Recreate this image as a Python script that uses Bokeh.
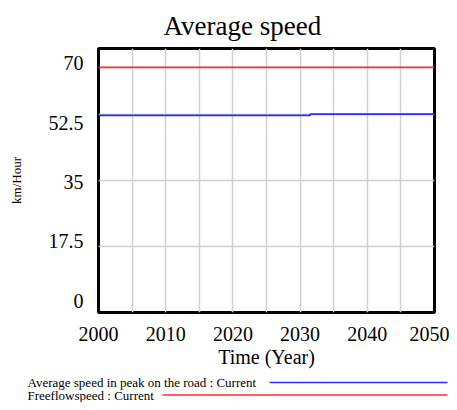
from bokeh.plotting import figure
from bokeh.models import (Range1d, LinearAxis, FixedTicker, Grid, Title)
from bokeh.core.properties import value
from bokeh.embed import file_html
from bokeh.resources import INLINE

# ---- data ----
years_blue = [2000, 2031.5, 2050]
avg_speed_peak = [52.25, 52.6, 52.6]
years_red = [2000, 2050]
freeflow_speed = [65, 65]
x_ticks = [2000, 2010, 2020, 2030, 2040, 2050]
x_grid = [2005, 2010, 2015, 2020, 2025, 2030, 2035, 2040, 2045]
y_ticks = [0, 17.5, 35, 52.5, 70]
y_tick_labels = {0: "0", 17.5: "17.5", 35: "35", 52.5: "52.5", 70: "70"}
title_text = "Average speed"
x_label = "Time (Year)"
y_label = "km/Hour"
legend_labels = ["Average speed in peak on the road : Current", "Freeflowspeed : Current"]
legend_colors = ["#2a2aff", "#ff2a2a"]

SERIF = "Liberation Serif"
W, H = 449, 370
FL, FR, FT, FB = 98, 434, 47, 315  # frame edges in figure pixels

p = figure(width=W, height=H, output_backend="svg", toolbar_location=None,
           x_range=Range1d(2000, 2050), y_range=Range1d(0, 70),
           x_axis_location=None, y_axis_location=None,
           min_border_left=FL, min_border_right=W - FR,
           min_border_top=FT, min_border_bottom=H - FB)
p.center = []
p.outline_line_color = "black"
p.outline_line_width = 3
p.outline_line_alpha = 1
p.background_fill_color = "white"
p.border_fill_color = "white"

t = Title(text=title_text, align="left", offset=65, text_font=SERIF,
          text_font_size="27px", text_font_style="normal", text_color="black",
          standoff=16)
p.add_layout(t, "above")

# label axis range: Vensim places tick labels slightly compressed
lab_bottom_px, lab_top_px = 303, 62
ppu = (lab_bottom_px - lab_top_px) / 70.0
p.extra_y_ranges = {"lab": Range1d(-(FB - lab_bottom_px) / ppu, 70 + (lab_top_px - FT) / ppu)}

yaxis = LinearAxis(y_range_name="lab", ticker=FixedTicker(ticks=y_ticks),
                   major_label_overrides=y_tick_labels)
yaxis.axis_line_color = None
yaxis.major_tick_line_color = None
yaxis.minor_tick_line_color = None
yaxis.major_tick_out = 0
yaxis.major_tick_in = 0
yaxis.major_label_standoff = 15
yaxis.major_label_text_font = SERIF
yaxis.major_label_text_font_size = "20px"
yaxis.major_label_text_color = "black"
yaxis.axis_label = y_label
yaxis.axis_label_text_font = SERIF
yaxis.axis_label_text_font_size = "13px"
yaxis.axis_label_text_font_style = "normal"
yaxis.axis_label_text_color = "black"
yaxis.axis_label_standoff = 22
p.add_layout(yaxis, "left")

xaxis = LinearAxis(ticker=FixedTicker(ticks=x_ticks))
xaxis.axis_line_color = None
xaxis.major_tick_line_color = None
xaxis.minor_tick_line_color = None
xaxis.major_tick_out = 0
xaxis.major_tick_in = 0
xaxis.major_label_standoff = 14
xaxis.major_label_text_font = SERIF
xaxis.major_label_text_font_size = "20px"
xaxis.major_label_text_color = "black"
xaxis.axis_label = x_label
xaxis.axis_label_text_font = SERIF
xaxis.axis_label_text_font_size = "20px"
xaxis.axis_label_text_font_style = "normal"
xaxis.axis_label_text_color = "black"
xaxis.axis_label_standoff = 2
p.add_layout(xaxis, "below")

grid_color = "#d0d0d0"
p.add_layout(Grid(dimension=0, ticker=FixedTicker(ticks=x_grid),
                  grid_line_color=grid_color, grid_line_width=1.5))
p.add_layout(Grid(dimension=1, ticker=FixedTicker(ticks=[17.5, 35, 52.5]),
                  grid_line_color=grid_color, grid_line_width=1.5))

p.line(years_red, freeflow_speed, line_color=legend_colors[1], line_width=1.6)
p.step(years_blue, avg_speed_peak, mode="after", line_color=legend_colors[0], line_width=1.8)

# ---- legend strip below (pixel coordinates of the page), separate root ----
LH = 32
leg = figure(width=W, height=LH, output_backend="svg", toolbar_location=None,
             x_range=Range1d(0, W), y_range=Range1d(H + LH, H),
             x_axis_location=None, y_axis_location=None,
             min_border_left=0, min_border_right=0, min_border_top=0, min_border_bottom=0)
leg.center = []
leg.outline_line_color = None
leg.background_fill_color = "white"
leg.border_fill_color = "white"
leg_y = [382, 394.5]
leg_text_x = [27, 27]
leg_line_x0 = [269, 162]
leg_line_x1 = [447, 447]
leg.text(x=leg_text_x, y=leg_y, text=legend_labels, text_font=value(SERIF),
         text_font_size="13px", text_baseline="middle", text_align="left",
         text_color="black")
leg.segment(x0=leg_line_x0, y0=leg_y, x1=leg_line_x1, y1=leg_y,
            line_color=legend_colors, line_width=1.6)

open("out.html", "w").write(file_html([p, leg], INLINE))
